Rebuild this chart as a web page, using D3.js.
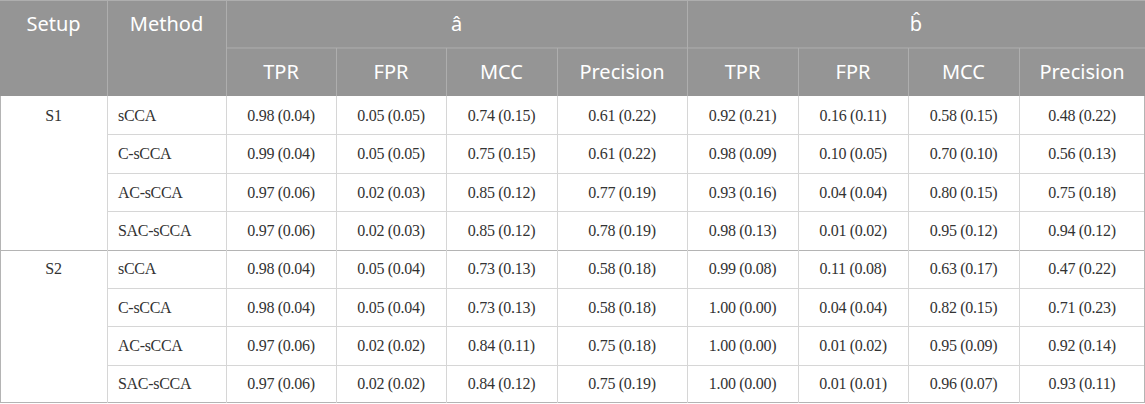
<!DOCTYPE html>
<html lang="en">
  <head>
    <meta charset="utf-8">
    <title>sCCA variable selection table</title>
    <style>
      body { margin: 0; background: #fff; }
      svg { display: block; }
      .head text { font-family: "Noto Sans", sans-serif; font-size: 20px; fill: #fff; }
      .body text { font-family: "Liberation Serif", serif; font-size: 16px; letter-spacing: -0.3px; fill: #333; }
    </style>
    <script src="https://d3js.org/d3.v7.min.js"></script>
  </head>
  <body>
    <script>

      // table data
      const setups  = ['S1', 'S2'];
      const methods = ['sCCA', 'C-sCCA', 'AC-sCCA', 'SAC-sCCA'];
      const groups  = ['â', 'b̂'];
      const metrics = ['TPR', 'FPR', 'MCC', 'Precision'];

      // rows: setup x method, values for â (TPR, FPR, MCC, Precision)
      const aValues = [
        ['0.98 (0.04)', '0.05 (0.05)', '0.74 (0.15)', '0.61 (0.22)'],
        ['0.99 (0.04)', '0.05 (0.05)', '0.75 (0.15)', '0.61 (0.22)'],
        ['0.97 (0.06)', '0.02 (0.03)', '0.85 (0.12)', '0.77 (0.19)'],
        ['0.97 (0.06)', '0.02 (0.03)', '0.85 (0.12)', '0.78 (0.19)'],
        ['0.98 (0.04)', '0.05 (0.04)', '0.73 (0.13)', '0.58 (0.18)'],
        ['0.98 (0.04)', '0.05 (0.04)', '0.73 (0.13)', '0.58 (0.18)'],
        ['0.97 (0.06)', '0.02 (0.02)', '0.84 (0.11)', '0.75 (0.18)'],
        ['0.97 (0.06)', '0.02 (0.02)', '0.84 (0.12)', '0.75 (0.19)']
      ];
      // values for b̂
      const bValues = [
        ['0.92 (0.21)', '0.16 (0.11)', '0.58 (0.15)', '0.48 (0.22)'],
        ['0.98 (0.09)', '0.10 (0.05)', '0.70 (0.10)', '0.56 (0.13)'],
        ['0.93 (0.16)', '0.04 (0.04)', '0.80 (0.15)', '0.75 (0.18)'],
        ['0.98 (0.13)', '0.01 (0.02)', '0.95 (0.12)', '0.94 (0.12)'],
        ['0.99 (0.08)', '0.11 (0.08)', '0.63 (0.17)', '0.47 (0.22)'],
        ['1.00 (0.00)', '0.04 (0.04)', '0.82 (0.15)', '0.71 (0.23)'],
        ['1.00 (0.00)', '0.01 (0.02)', '0.95 (0.09)', '0.92 (0.14)'],
        ['1.00 (0.00)', '0.01 (0.01)', '0.96 (0.07)', '0.93 (0.11)']
      ];

      // layout
      const width = 1145, height = 404;
      const headH = 48, bodyTop = 96, bodyBottom = 403;
      // column edges: Setup, Method, then 8 metric columns
      const edges = [0, 107, 226, 336, 446, 557, 687, 798, 908, 1019, 1145];
      const colKeys = ['setup', 'method'];
      groups.forEach((g, gi) => metrics.forEach(m => colKeys.push(gi + ':' + m)));

      const colX = d3.scaleOrdinal().domain(colKeys).range(edges.slice(0, -1));
      const colW = d3.scaleOrdinal().domain(colKeys).range(d3.pairs(edges).map(p => p[1] - p[0]));

      const rows = [];
      setups.forEach((s, si) => methods.forEach((m, mi) => {
        const i = si * methods.length + mi;
        rows.push({ setup: s, method: m, first: mi === 0, values: aValues[i].concat(bValues[i]) });
      }));

      const y = d3.scaleBand()
                  .domain(d3.range(rows.length))
                  .range([bodyTop, bodyBottom]);

      const svg = d3.select('body').append('svg')
                    .attr('width', width)
                    .attr('height', height);

      // ---- header ----
      const head = svg.append('g').attr('class', 'head');
      head.append('rect')
          .attr('x', 0).attr('y', 0)
          .attr('width', width).attr('height', bodyTop)
          .attr('fill', '#959595');

      const hLine = '#aeaeae';
      // top border
      head.append('line').attr('x1', 0).attr('x2', width).attr('y1', 0.5).attr('y2', 0.5)
          .attr('stroke', hLine);
      // line under group labels
      head.append('line').attr('x1', edges[2]).attr('x2', width).attr('y1', headH).attr('y2', headH)
          .attr('stroke', hLine);

      // vertical lines in header
      const headV = [edges[1], edges[2], edges[6]];
      head.selectAll('line.v').data(headV).join('line')
          .attr('class', 'v')
          .attr('x1', d => d + 0.5).attr('x2', d => d + 0.5)
          .attr('y1', 0).attr('y2', bodyTop)
          .attr('stroke', hLine);
      head.selectAll('line.v2').data(colKeys.slice(2).filter((k, i) => i % 4 !== 0)).join('line')
          .attr('class', 'v2')
          .attr('x1', d => colX(d) + 0.5).attr('x2', d => colX(d) + 0.5)
          .attr('y1', headH).attr('y2', bodyTop)
          .attr('stroke', hLine);

      head.selectAll('text.top').data([['setup', 'Setup'], ['method', 'Method']]).join('text')
          .attr('class', 'top')
          .attr('x', d => colX(d[0]) + colW(d[0]) / 2)
          .attr('y', headH / 2)
          .attr('dy', '0.35em')
          .attr('text-anchor', 'middle')
          .text(d => d[1]);

      head.selectAll('text.group').data(groups).join('text')
          .attr('class', 'group')
          .attr('x', (d, i) => {
            const x0 = colX(i + ':' + metrics[0]);
            const last = i + ':' + metrics[metrics.length - 1];
            return (x0 + colX(last) + colW(last)) / 2;
          })
          .attr('y', headH / 2)
          .attr('dy', '0.35em')
          .attr('text-anchor', 'middle')
          .text(d => d);

      head.selectAll('text.metric').data(colKeys.slice(2)).join('text')
          .attr('class', 'metric')
          .attr('x', d => colX(d) + colW(d) / 2)
          .attr('y', headH + headH / 2)
          .attr('dy', '0.35em')
          .attr('text-anchor', 'middle')
          .text(d => d.split(':')[1]);

      // ---- body ----
      const body = svg.append('g').attr('class', 'body');
      const gridC = '#d6d6d6', darkC = '#b4b4b4';

      // horizontal row lines (method columns onward)
      body.selectAll('line.row').data(rows.filter(r => !r.first)).join('line')
          .attr('class', 'row')
          .attr('x1', edges[1]).attr('x2', width)
          .attr('y1', d => Math.round(y(rows.indexOf(d))) + 0.5)
          .attr('y2', d => Math.round(y(rows.indexOf(d))) + 0.5)
          .attr('stroke', gridC);

      // setup separators + bottom
      const sepIdx = rows.map((r, i) => r.first && i > 0 ? i : -1).filter(i => i > 0);
      body.selectAll('line.sep').data(sepIdx).join('line')
          .attr('class', 'sep')
          .attr('x1', 0).attr('x2', width)
          .attr('y1', d => Math.round(y(d)) + 0.5).attr('y2', d => Math.round(y(d)) + 0.5)
          .attr('stroke', darkC);
      body.append('line')
          .attr('x1', 0).attr('x2', width)
          .attr('y1', bodyBottom - 0.5).attr('y2', bodyBottom - 0.5)
          .attr('stroke', darkC);

      // vertical lines in body
      body.selectAll('line.col').data(edges).join('line')
          .attr('class', 'col')
          .attr('x1', d => d === width ? d - 0.5 : d + 0.5).attr('x2', d => d === width ? d - 0.5 : d + 0.5)
          .attr('y1', bodyTop).attr('y2', bodyBottom)
          .attr('stroke', (d, i) => (i === 0 || i === edges.length - 1) ? darkC : gridC);

      // setup labels (first row of each block)
      body.selectAll('text.setup').data(rows.filter(r => r.first)).join('text')
          .attr('class', 'setup')
          .attr('x', colX('setup') + colW('setup') / 2)
          .attr('y', d => y(rows.indexOf(d)) + y.bandwidth() / 2)
          .attr('dy', '0.35em')
          .attr('text-anchor', 'middle')
          .text(d => d.setup);

      body.selectAll('text.method').data(rows).join('text')
          .attr('class', 'method')
          .attr('x', colX('method') + 11)
          .attr('y', (d, i) => y(i) + y.bandwidth() / 2)
          .attr('dy', '0.35em')
          .text(d => d.method);

      const cells = [];
      rows.forEach((r, ri) => r.values.forEach((v, vi) => cells.push({ ri, key: colKeys[vi + 2], v })));
      body.selectAll('text.cell').data(cells).join('text')
          .attr('class', 'cell')
          .attr('x', d => colX(d.key) + colW(d.key) / 2)
          .attr('y', d => y(d.ri) + y.bandwidth() / 2)
          .attr('dy', '0.35em')
          .attr('text-anchor', 'middle')
          .text(d => d.v);
    </script>
  </body>
</html>
